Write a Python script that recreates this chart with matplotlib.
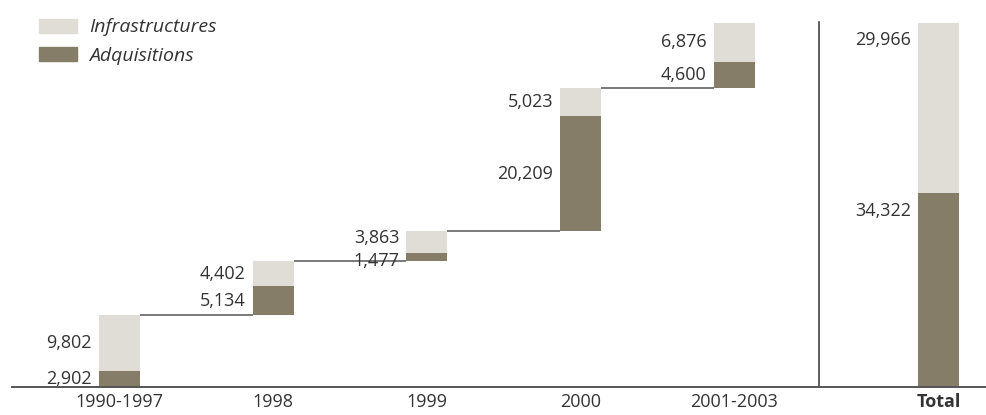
import matplotlib.pyplot as plt
import numpy as np

plt.rcParams['font.family'] = ['Open Sans', 'DejaVu Sans']

periods = ['1990-1997', '1998', '1999', '2000', '2001-2003']
adquisitions = [2902, 5134, 1477, 20209, 4600]
infrastructures = [9802, 4402, 3863, 5023, 6876]
total_adq = 34322
total_inf = 29966

c_light = '#e0dcd6'
c_dark = '#857d67'
c_text = '#333333'

fig = plt.figure(figsize=(9.86, 4.15), dpi=100)
ax = fig.add_axes([12 / 986, 28 / 415, 974 / 986, 364 / 415])

w = 0.267
x = np.arange(len(periods))
x_total = 5.33

adq = np.array(adquisitions)
inf = np.array(infrastructures)
ends = np.cumsum(adq + inf)
starts = ends - adq - inf

# waterfall steps
ax.bar(x, adq, w, bottom=starts, color=c_dark, zorder=2)
ax.bar(x, inf, w, bottom=starts + adq, color=c_light, zorder=2)

# connector lines between steps
for i in range(len(periods) - 1):
    ax.plot([x[i] + w / 2, x[i + 1] - w / 2], [ends[i], ends[i]],
            color='#6e6e6e', lw=1.3, solid_capstyle='butt', zorder=1)

# total bar
ax.bar(x_total, total_adq, w, color=c_dark, zorder=2)
ax.bar(x_total, total_inf, w, bottom=total_adq, color=c_light, zorder=2)

# value labels, centred on their segment but kept apart when segments are thin
min_gap = 4000
lab = dict(textcoords='offset points', ha='right', color=c_text, fontsize=13)
for i in range(len(periods)):
    y_adq = starts[i] + adq[i] / 2
    y_inf = starts[i] + adq[i] + inf[i] / 2
    gap = y_inf - y_adq
    if gap < min_gap:
        y_adq -= (min_gap - gap) / 2
        y_inf += (min_gap - gap) / 2
    ax.annotate(f'{adq[i]:,}', (x[i] - w / 2, y_adq),
                xytext=(-5, 0), va='center', **lab)
    ax.annotate(f'{inf[i]:,}', (x[i] - w / 2, y_inf),
                xytext=(-5, 0), va='center', **lab)

ax.annotate(f'{total_inf:,}', (x_total - w / 2, total_adq + total_inf),
            xytext=(-5, -6), va='top', **lab)
ax.annotate(f'{total_adq:,}', (x_total - w / 2, total_adq),
            xytext=(-5, -7), va='top', **lab)

# separator before the total
ax.plot([4.55, 4.55], [0, (total_adq + total_inf) * 1.003],
        color='#333333', lw=1.1, clip_on=False)

ax.set_xlim(-0.70, 5.64)
ax.set_ylim(0, total_adq + total_inf)
ax.set_xticks(list(x) + [x_total])
ax.set_xticklabels(periods + ['Total'], fontsize=13, color=c_text)
ax.get_xticklabels()[-1].set_fontweight('bold')
ax.tick_params(axis='x', length=0, pad=4)
ax.set_yticks([])
for s in ['top', 'right', 'left']:
    ax.spines[s].set_visible(False)
ax.spines['bottom'].set_color('#555555')
ax.spines['bottom'].set_linewidth(1.4)

# legend
h_inf = plt.Rectangle((0, 0), 1, 1, color=c_light)
h_adq = plt.Rectangle((0, 0), 1, 1, color=c_dark)
fig.legend([h_inf, h_adq], ['Infrastructures', 'Adquisitions'],
           loc='upper left', bbox_to_anchor=(21 / 986, 1 - 1 / 415),
           frameon=False, handlelength=2.0, handleheight=0.72,
           handletextpad=0.6, labelspacing=0.55, labelcolor=c_text,
           prop={'style': 'italic', 'size': 14})

fig.savefig('out.png', dpi=100)
